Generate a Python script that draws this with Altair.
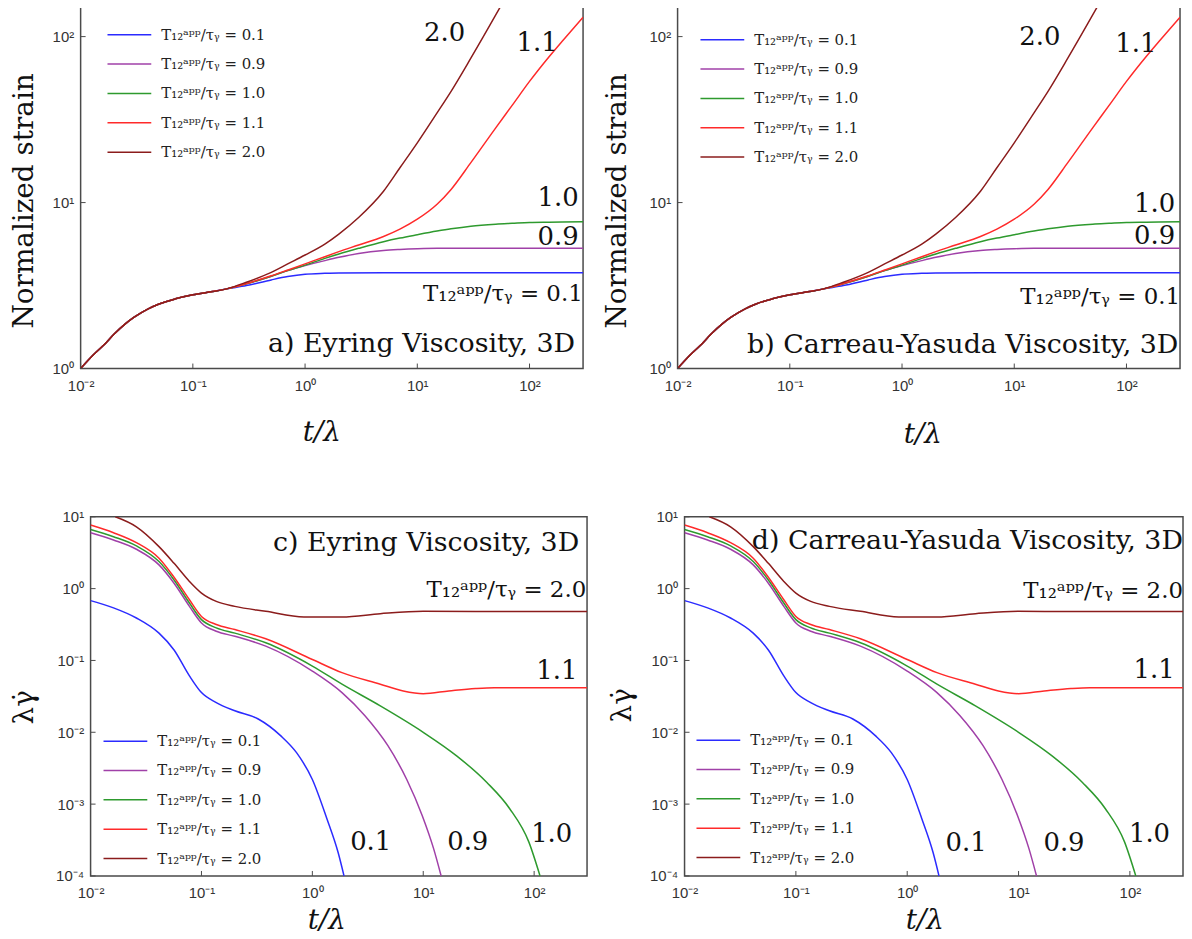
import altair as alt
import pandas as pd

SERIF = "DejaVu Serif"
SANS = "Liberation Sans"
FRAME = "#4a4a4a"

SERIES = ["0.1", "0.9", "1.0", "1.1", "2.0"]
LEGEND_LABELS = ["T₁₂ᵃᵖᵖ/τᵧ = " + s for s in SERIES]
COLORS = ["#2b2bff", "#a040a8", "#2e9a2e", "#ff2a2a", "#8b1c1c"]

X_TICKS = [0.01, 0.1, 1, 10, 100]
STRAIN_TICKS = [1, 10, 100]
RATE_TICKS = [0.0001, 0.001, 0.01, 0.1, 1, 10]

# ---- normalized strain (panels a, b) ----
T_START = [0.01, 0.013, 0.016, 0.02, 0.025, 0.03, 0.04, 0.05, 0.07, 0.1, 0.15, 0.2]
S_START = [1.0, 1.21, 1.38, 1.62, 1.86, 2.04, 2.29, 2.45, 2.63, 2.78, 2.91, 3.02]

T_S01 = [0.3, 0.5, 0.7, 1, 1.5, 2, 5, 300]
S_S01 = [3.16, 3.42, 3.58, 3.70, 3.75, 3.77, 3.78, 3.78]
T_S09 = [0.3, 0.5, 0.7, 1, 1.5, 2, 3, 5, 7, 10, 15, 30, 300]
S_S09 = [3.24, 3.6, 3.89, 4.17, 4.47, 4.68, 4.94, 5.15, 5.22, 5.27, 5.3, 5.3, 5.3]
T_S10 = [0.3, 0.5, 0.7, 1, 1.5, 2, 3, 5, 7, 10, 15, 20, 30, 50, 70, 100, 150, 300]
S_S10 = [3.24, 3.6, 3.89, 4.2, 4.61, 4.9, 5.3, 5.81, 6.11, 6.4, 6.73, 6.95, 7.21, 7.41, 7.5, 7.59, 7.62, 7.66]
T_S11 = [0.3, 0.5, 0.7, 1, 1.5, 2, 3, 5, 7, 10, 15, 20, 30, 50, 70, 100, 150, 200, 300]
S_S11 = [3.25, 3.62, 3.92, 4.27, 4.72, 5.06, 5.55, 6.25, 6.92, 7.94, 9.77, 12.0, 17.4, 28.2, 38.5, 53.7, 75.9, 95.5, 131]
T_S20 = [0.3, 0.5, 0.7, 1, 1.5, 2, 3, 5, 7, 10, 15, 20, 30, 50, 54.6]
S_S20 = [3.31, 3.8, 4.27, 4.83, 5.62, 6.46, 8.13, 11.7, 16.2, 22.9, 34.7, 46.8, 74.1, 135, 150]

# ---- dimensionless shear rate (panels c, d) ----
T_R01 = [0.01, 0.0161, 0.0259, 0.0414, 0.0566, 0.0779, 0.1, 0.136, 0.2, 0.325, 0.52, 0.72, 1.0, 1.35, 1.71, 1.93]
R_R01 = [0.68, 0.54, 0.39, 0.24, 0.14, 0.061, 0.0357, 0.0259, 0.0199, 0.0153, 0.0089, 0.0052, 0.0022, 0.00063, 0.00021, 0.0001]
T_R09 = [0.01, 0.0161, 0.0259, 0.0414, 0.0566, 0.0779, 0.1, 0.136, 0.2, 0.38, 1.0, 1.85, 2.98, 4.8, 7.1, 9.8, 12.4, 14.5]
R_R09 = [6.0, 4.75, 3.53, 2.14, 1.19, 0.567, 0.333, 0.255, 0.217, 0.158, 0.071, 0.0356, 0.017, 0.0065, 0.0022, 0.00069, 0.00024, 0.0001]
T_R10 = [0.01, 0.0161, 0.0259, 0.0414, 0.0566, 0.0779, 0.1, 0.136, 0.2, 0.38, 1.0, 1.85, 4.1, 10, 20, 37.5, 60, 89.5, 113]
R_R10 = [6.67, 5.28, 3.93, 2.38, 1.32, 0.63, 0.37, 0.284, 0.24, 0.176, 0.0835, 0.0467, 0.0233, 0.01, 0.0047, 0.002, 0.00087, 0.000298, 0.0001]
T_R11 = [0.01, 0.0161, 0.0259, 0.0414, 0.0566, 0.0779, 0.1, 0.136, 0.2, 0.38, 1.0, 1.85, 4.1, 6.6, 10, 17, 29.6, 43.7, 300]
R_R11 = [7.67, 6.0, 4.36, 2.65, 1.44, 0.70, 0.41, 0.316, 0.269, 0.2, 0.103, 0.0676, 0.0467, 0.0376, 0.0345, 0.0376, 0.0407, 0.0418, 0.0418]
T_R20 = [0.0167, 0.0259, 0.0414, 0.0566, 0.0779, 0.1, 0.136, 0.2, 0.38, 0.84, 1.85, 4.1, 10, 29.6, 300]
R_R20 = [10.0, 7.25, 3.84, 2.25, 1.26, 0.867, 0.664, 0.566, 0.483, 0.403, 0.403, 0.448, 0.483, 0.48, 0.48]

LABEL_EXPR = ("datum.value < 0.00015 ? '10⁻⁴' : datum.value < 0.0015 ? '10⁻³' : "
              "datum.value < 0.015 ? '10⁻²' : datum.value < 0.15 ? '10⁻¹' : "
              "datum.value < 1.5 ? '10⁰' : datum.value < 15 ? '10¹' : '10²'")


def build_df(ts, vs):
    rows = []
    for lab, t, v in zip(LEGEND_LABELS, ts, vs):
        for ti, vi in zip(t, v):
            rows.append({"t": ti, "v": vi, "series": lab})
    return pd.DataFrame(rows)


strain_df = build_df(
    [T_START + T_S01, T_START + T_S09, T_START + T_S10, T_START + T_S11, T_START + T_S20],
    [S_START + S_S01, S_START + S_S09, S_START + S_S10, S_START + S_S11, S_START + S_S20],
)
rate_df = build_df([T_R01, T_R09, T_R10, T_R11, T_R20], [R_R01, R_R09, R_R10, R_R11, R_R20])


def panel(df, ydomain, yticks, ytitle, w, h, leg_xy, notes_c, notes_r, ytpos, xtpos):
    xenc = alt.X("t:Q", scale=alt.Scale(type="log", domain=[0.01, 300], nice=False),
                 axis=alt.Axis(values=X_TICKS, labelExpr=LABEL_EXPR, title="t/λ",
                               titleFontStyle="italic", labelFlush=False,
                               titleX=xtpos[0], titleY=xtpos[1], titleAlign="center",
                               titleBaseline="middle", titleAngle=0))
    yenc = alt.Y("v:Q", scale=alt.Scale(type="log", domain=ydomain, nice=False),
                 axis=alt.Axis(values=yticks, labelExpr=LABEL_EXPR, title=ytitle, labelFlush=False,
                               titleX=ytpos[0], titleY=ytpos[1], titleAlign="center",
                               titleBaseline="middle", titleAngle=270))
    lines = alt.Chart(df).mark_line(clip=True, strokeWidth=1.5, interpolate="monotone").encode(
        x=xenc, y=yenc,
        color=alt.Color("series:N", scale=alt.Scale(domain=LEGEND_LABELS, range=COLORS),
                        legend=alt.Legend(orient="none", legendX=leg_xy[0], legendY=leg_xy[1],
                                          title=None, labelFont=SERIF, labelFontSize=15,
                                          labelColor="#222", symbolType="stroke", symbolSize=1936,
                                          symbolStrokeWidth=1.5, labelOffset=9, clipHeight=25,
                                          rowPadding=4.5, padding=0)),
    )
    xt = alt.Chart(pd.DataFrame({"t": X_TICKS})).mark_rule(color=FRAME, strokeWidth=1).encode(
        x="t:Q", y=alt.value(h), y2=alt.value(h - 5))
    yt = alt.Chart(pd.DataFrame({"v": yticks})).mark_rule(color=FRAME, strokeWidth=1).encode(
        y="v:Q", x=alt.value(0), x2=alt.value(5))
    tc = alt.Chart(pd.DataFrame(notes_c, columns=["t", "v", "txt"])).mark_text(
        font=SERIF, fontSize=26, align="center", baseline="middle", color="#111").encode(
        x="t:Q", y="v:Q", text="txt:N")
    tr = alt.Chart(pd.DataFrame(notes_r, columns=["t", "v", "txt", "size"])).mark_text(
        font=SERIF, align="right", baseline="middle", color="#111").encode(
        x="t:Q", y="v:Q", text="txt:N", size=alt.Size("size:Q", scale=None, legend=None))
    return alt.layer(lines, xt, yt, tc, tr).properties(width=w, height=h)


pa = panel(strain_df, [1, 150], STRAIN_TICKS, "Normalized strain", 505, 363, (26, 15),
           [[17.5, 105, "2.0"], [117, 91, "1.1"], [180, 10.7, "1.0"], [180, 6.17, "0.9"]],
           [[298, 2.82, "T₁₂ᵃᵖᵖ/τᵧ = 0.1", 23], [255, 1.41, "a) Eyring Viscosity, 3D", 27]],
           (-56, 194), (242, 64))
pb = panel(strain_df, [1, 150], STRAIN_TICKS, "Normalized strain", 505, 363, (22, 20),
           [[16.9, 99, "2.0"], [121, 90, "1.1"], [178, 9.8, "1.0"], [178, 6.3, "0.9"]],
           [[300, 2.7, "T₁₂ᵃᵖᵖ/τᵧ = 0.1", 23], [290, 1.39, "b) Carreau-Yasuda Viscosity, 3D", 27]],
           (-60, 194), (246, 66))
pc = panel(rate_df, [0.0001, 10], RATE_TICKS, "λγ̇", 499, 361, (12, 213),
           [[160, 0.071, "1.1"], [3.36, 0.000297, "0.1"], [25.2, 0.000297, "0.9"], [144, 0.000389, "1.0"]],
           [[295, 0.96, "T₁₂ᵃᵖᵖ/τᵧ = 2.0", 23], [255, 4.27, "c) Eyring Viscosity, 3D", 27]],
           (-66, 191), (237, 45))
pd_ = panel(rate_df, [0.0001, 10], RATE_TICKS, "λγ̇", 501, 361, (11, 212),
            [[165, 0.073, "1.1"], [3.38, 0.00029, "0.1"], [25.6, 0.00029, "0.9"], [150, 0.00038, "1.0"]],
            [[300, 0.94, "T₁₂ᵃᵖᵖ/τᵧ = 2.0", 23], [300, 4.6, "d) Carreau-Yasuda Viscosity, 3D", 27]],
            (-62, 189), (241, 45))

# invisible 10px-wide cell that indents the lower row relative to the upper one
spacer = alt.Chart(pd.DataFrame({"t": [0]})).mark_point(opacity=0, size=1).encode(
    x=alt.value(5), y=alt.value(100)
).properties(width=10, height=361, view=alt.ViewBackground(stroke="transparent"))

row1 = alt.hconcat(pa, pb, spacing=95, bounds="flush").resolve_scale(
    color="independent").resolve_legend(color="independent")
row2_inner = alt.hconcat(pc, pd_, spacing=98, bounds="flush").resolve_scale(
    color="independent").resolve_legend(color="independent")
row2 = alt.hconcat(spacer, row2_inner, spacing=0, bounds="flush").resolve_scale(
    color="independent").resolve_legend(color="independent")

chart = alt.concat(row1, row2, columns=1, spacing=60).resolve_scale(
    color="independent").resolve_legend(color="independent"
).configure(
    padding={"left": 2, "top": -4, "right": 0, "bottom": 0}
).configure_view(
    stroke=FRAME, strokeWidth=1.5
).configure_axis(
    domain=False, ticks=False, grid=False, labelFont=SANS, labelFontSize=15, labelColor="#333",
    titleFont=SERIF, titleFontSize=28, titleFontWeight="normal", titleColor="#111"
).configure_axisX(labelPadding=10).configure_axisY(labelPadding=7)

chart.save("out.html", embed_options={"renderer": "svg", "actions": False})
